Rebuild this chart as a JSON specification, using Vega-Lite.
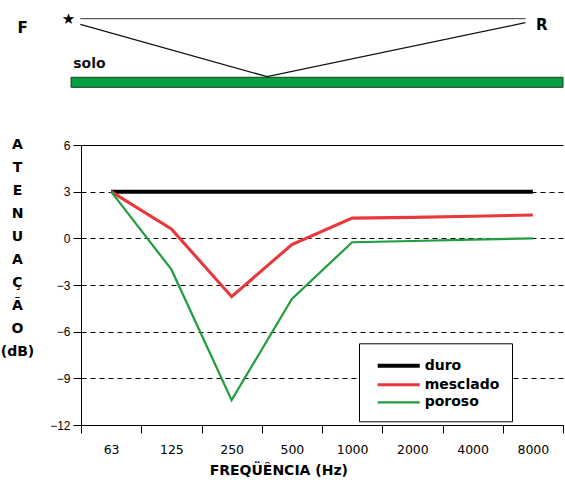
{
  "$schema": "https://vega.github.io/schema/vega-lite/v6.json",
  "padding": {"left": 0, "top": 0, "right": 0, "bottom": 0},
  "spacing": 37,
  "config": {"view": {"stroke": null}, "font": "DejaVu Sans"},
  "vconcat": [
    {
      "width": 482,
      "height": 100,
      "encoding": {
        "x": {"field": "x", "type": "quantitative", "scale": {"domain": [0, 100], "nice": false, "zero": false}, "axis": null},
        "y": {"field": "y", "type": "quantitative", "scale": {"domain": [0, 100], "nice": false, "zero": false}, "axis": null}
      },
      "layer": [
        {
          "data": {"values": [{"elemento": "solo", "x": -2.07, "x2": 100, "y": 12.7, "y2": 22.7}]},
          "mark": {"type": "rect", "fill": "#03a13f", "stroke": "#1d3d22", "strokeWidth": 1},
          "encoding": {"x2": {"field": "x2"}, "y2": {"field": "y2"}}
        },
        {
          "data": {"values": [{"elemento": "direto", "x": -0.14, "x2": 92.2, "y": 81.3}]},
          "mark": {"type": "rule", "color": "#333333", "strokeWidth": 1},
          "encoding": {"x2": {"field": "x2"}}
        },
        {
          "data": {"values": [
            {"elemento": "refletido", "x": -0.14, "y": 75.7},
            {"elemento": "refletido", "x": 38.6, "y": 23.3},
            {"elemento": "refletido", "x": 92.2, "y": 77.3}
          ]},
          "mark": {"type": "line", "color": "#111111", "strokeWidth": 1.3},
          "encoding": {}
        },
        {
          "data": {"values": [{"rotulo": "F", "x": -12.1, "y": 72}, {"rotulo": "R", "x": 95.6, "y": 74.7}]},
          "mark": {"type": "text", "font": "DejaVu Sans", "fontSize": 15, "fontWeight": "bold", "color": "#000000", "align": "center", "baseline": "middle"},
          "encoding": {"text": {"field": "rotulo"}}
        },
        {
          "data": {"values": [{"rotulo": "★", "x": -2.6, "y": 80.7}]},
          "mark": {"type": "text", "font": "DejaVu Sans", "fontSize": 15, "color": "#000000", "align": "center", "baseline": "middle"},
          "encoding": {"text": {"field": "rotulo"}}
        },
        {
          "data": {"values": [{"rotulo": "solo", "x": -1.6, "y": 32}]},
          "mark": {"type": "text", "font": "DejaVu Sans", "fontSize": 14, "fontWeight": "bold", "color": "#111111", "align": "left", "baseline": "alphabetic"},
          "encoding": {"text": {"field": "rotulo"}}
        }
      ]
    },
    {
      "width": 482,
      "height": 280,
      "data": {"values": [
        {"freq": "63", "serie": "duro", "atenuacao": 3},
        {"freq": "125", "serie": "duro", "atenuacao": 3},
        {"freq": "250", "serie": "duro", "atenuacao": 3},
        {"freq": "500", "serie": "duro", "atenuacao": 3},
        {"freq": "1000", "serie": "duro", "atenuacao": 3},
        {"freq": "2000", "serie": "duro", "atenuacao": 3},
        {"freq": "4000", "serie": "duro", "atenuacao": 3},
        {"freq": "8000", "serie": "duro", "atenuacao": 3},
        {"freq": "63", "serie": "mesclado", "atenuacao": 3},
        {"freq": "125", "serie": "mesclado", "atenuacao": 0.6},
        {"freq": "250", "serie": "mesclado", "atenuacao": -3.75},
        {"freq": "500", "serie": "mesclado", "atenuacao": -0.4},
        {"freq": "1000", "serie": "mesclado", "atenuacao": 1.3},
        {"freq": "2000", "serie": "mesclado", "atenuacao": 1.35},
        {"freq": "4000", "serie": "mesclado", "atenuacao": 1.42},
        {"freq": "8000", "serie": "mesclado", "atenuacao": 1.5},
        {"freq": "63", "serie": "poroso", "atenuacao": 3},
        {"freq": "125", "serie": "poroso", "atenuacao": -2},
        {"freq": "250", "serie": "poroso", "atenuacao": -10.4},
        {"freq": "500", "serie": "poroso", "atenuacao": -3.9},
        {"freq": "1000", "serie": "poroso", "atenuacao": -0.25},
        {"freq": "2000", "serie": "poroso", "atenuacao": -0.17},
        {"freq": "4000", "serie": "poroso", "atenuacao": -0.08},
        {"freq": "8000", "serie": "poroso", "atenuacao": 0}
      ]},
      "mark": {"type": "line"},
      "encoding": {
        "x": {
          "field": "freq", "type": "ordinal",
          "scale": {"type": "band", "domain": ["63", "125", "250", "500", "1000", "2000", "4000", "8000"], "paddingInner": 0, "paddingOuter": 0},
          "axis": {
            "title": "FREQÜÊNCIA (Hz)", "titleX": 197.3, "titleY": 45.6, "titleAlign": "center", "titleBaseline": "middle",
            "titleFont": "DejaVu Sans", "titleFontSize": 14, "titleFontWeight": "bold", "titleColor": "#000000",
            "labelAngle": 0, "labelFont": "DejaVu Sans", "labelFontSize": 12.5, "labelColor": "#000000", "labelPadding": 10,
            "tickBand": "extent", "tickSize": 8, "tickColor": "#000000", "domainColor": "#000000", "grid": false
          }
        },
        "y": {
          "field": "atenuacao", "type": "quantitative",
          "scale": {"domain": [-12, 6], "nice": false, "zero": false},
          "axis": {
            "values": [-12, -9, -6, -3, 0, 3, 6],
            "title": ["A", "T", "E", "N", "U", "A", "Ç", "Ã", "O", "(dB)"],
            "titleAngle": 0, "titleX": -64, "titleY": -7.2, "titleAlign": "center", "titleBaseline": "top", "titleLineHeight": 23,
            "titleFont": "DejaVu Sans", "titleFontSize": 14, "titleFontWeight": "bold", "titleColor": "#000000",
            "grid": true, "gridColor": "#000000", "gridOpacity": 1, "gridWidth": 1,
            "gridDash": {"condition": {"test": "datum.value === 6", "value": []}, "value": [5, 4]},
            "tickSize": 8, "tickColor": "#000000", "domainColor": "#000000",
            "labelFont": "Liberation Sans", "labelFontSize": 12, "labelColor": "#000000", "labelPadding": 3
          }
        },
        "color": {
          "field": "serie", "type": "nominal",
          "scale": {"domain": ["duro", "mesclado", "poroso"], "range": ["#000000", "#e8383c", "#1f9e3e"]},
          "legend": {
            "title": null, "orient": "none", "legendX": 278, "legendY": 343.3,
            "fillColor": "#ffffff", "strokeColor": "#000000", "padding": 12, "rowPadding": 0, "symbolOffset": 17.2,
            "symbolType": "M-2.47,0H2.47", "symbolSize": 289, "symbolStrokeWidth": 4,
            "labelFont": "DejaVu Sans", "labelFontSize": 14, "labelFontWeight": "bold", "labelColor": "#000000", "labelOffset": 15.5
          }
        },
        "strokeWidth": {
          "field": "serie", "type": "nominal",
          "scale": {"domain": ["duro", "mesclado", "poroso"], "range": [4, 2.2, 2.2]},
          "legend": null
        }
      }
    }
  ]
}
